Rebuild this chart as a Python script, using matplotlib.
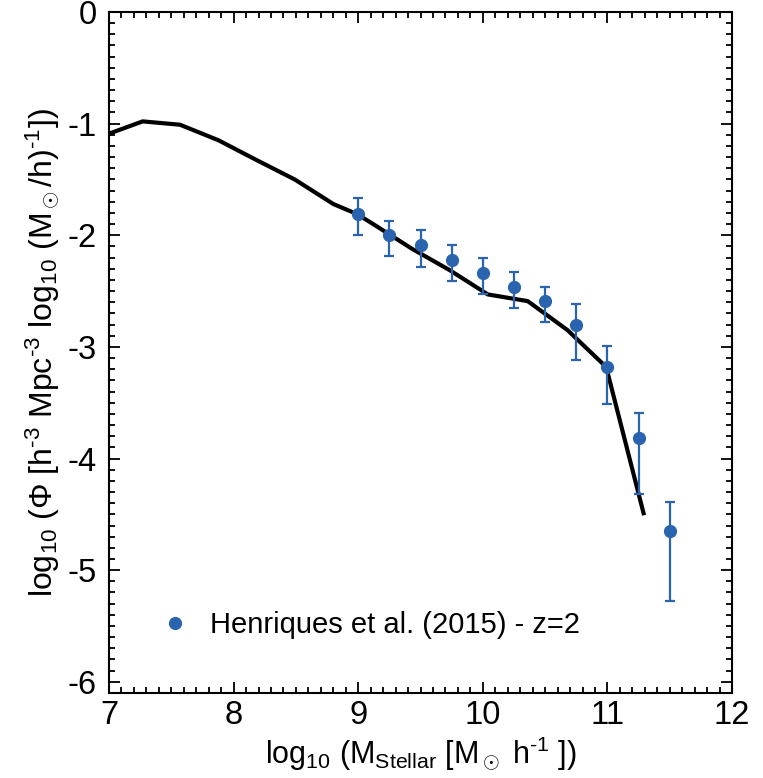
import numpy as np
import matplotlib
matplotlib.use('Agg')
import matplotlib.pyplot as plt
from matplotlib.ticker import MultipleLocator

plt.rcParams['font.family'] = ['Liberation Sans', 'DejaVu Sans']
plt.rcParams['mathtext.fontset'] = 'custom'
plt.rcParams['mathtext.rm'] = 'Liberation Sans'
plt.rcParams['mathtext.it'] = 'Liberation Sans'
plt.rcParams['mathtext.bf'] = 'Liberation Sans:bold'
plt.rcParams['axes.unicode_minus'] = False

# model curve
model_mass = [7.0, 7.27, 7.57, 7.88, 8.19, 8.49, 8.80, 8.99, 9.12, 9.43, 9.73,
              10.04, 10.36, 10.68, 10.99, 11.29]
model_phi = [-1.09, -0.98, -1.01, -1.15, -1.33, -1.50, -1.72, -1.81, -1.90,
             -2.12, -2.31, -2.53, -2.59, -2.85, -3.18, -4.49]

# Henriques et al. (2015) z=2
obs_mass = [9.0, 9.25, 9.5, 9.75, 10.0, 10.25, 10.5, 10.75, 11.0, 11.25, 11.5]
obs_phi = [-1.81, -2.0, -2.09, -2.22, -2.34, -2.46, -2.59, -2.80, -3.18, -3.82, -4.65]
obs_err_up = [0.14, 0.13, 0.14, 0.13, 0.14, 0.13, 0.13, 0.18, 0.19, 0.23, 0.26]
obs_err_lo = [0.19, 0.19, 0.19, 0.19, 0.19, 0.19, 0.19, 0.32, 0.33, 0.50, 0.63]

blue = '#2a64ae'

fig = plt.figure(figsize=(7.63, 7.78), dpi=100)
ax = fig.add_axes([0.1429, 0.1093, 0.8165, 0.8753])

ax.plot(model_mass, model_phi, color='black', lw=3.0, zorder=2)
ax.errorbar(obs_mass, obs_phi, yerr=[obs_err_lo, obs_err_up], fmt='o', color=blue,
            ms=8.5, elinewidth=1.6, capsize=3.5, capthick=1.6, zorder=3,
            label='Henriques et al. (2015) - z=2')

ax.set_xlim(7, 12)
ax.set_ylim(-6.1, 0)
ax.xaxis.set_major_locator(MultipleLocator(1))
ax.xaxis.set_minor_locator(MultipleLocator(0.1))
ax.yaxis.set_major_locator(MultipleLocator(1))
ax.yaxis.set_minor_locator(MultipleLocator(0.1))
ax.tick_params(which='both', direction='in', top=True, right=True, width=1.3)
ax.tick_params(which='major', length=8, labelsize=23.5)
ax.tick_params(axis='x', which='major', pad=5)
ax.tick_params(axis='y', which='major', pad=9)
ax.tick_params(which='minor', length=4)
for s in ax.spines.values():
    s.set_linewidth(1.5)

ax.set_xlabel(r'log$_{10}$ (M$_{\mathrm{Stellar}}$ [M$_\odot$ h$^{\text{-}1}$ ])', fontsize=22,
              labelpad=3)
ax.set_ylabel(r'log$_{10}$ ($\Phi$ [h$^{\text{-}3}$ Mpc$^{\text{-}3}$ log$_{10}$ (M$_\odot$/h)$^{\text{-}1}$])',
              fontsize=23, labelpad=4)

handles, labels = ax.get_legend_handles_labels()
ax.legend([handles[0][0]], labels, loc='lower left', bbox_to_anchor=(0.04, 0.04),
          frameon=False, fontsize=21, handletextpad=0.7, handlelength=1.0)

fig.savefig('out.png', dpi=100)
